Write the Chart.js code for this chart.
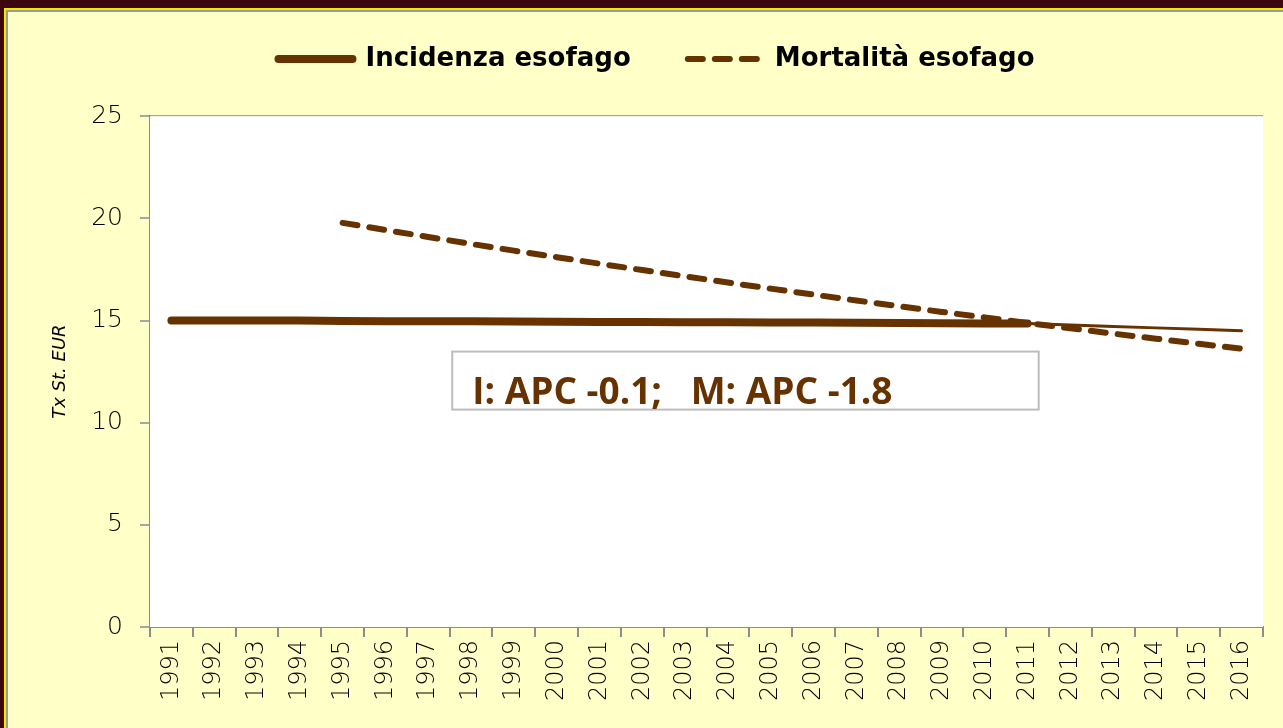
<!DOCTYPE html>
<html>
<head>
<meta charset="utf-8">
<script src="https://cdn.jsdelivr.net/npm/chart.js@4"></script>
<style>
  html, body { margin: 0; padding: 0; }
  body { width: 1283px; height: 728px; background: #3d0710; position: relative; overflow: hidden; }
  #frame { position: absolute; left: 4px; top: 8px; right: 0; bottom: 0;
           border-top: 2px solid #f2ea00; border-left: 2px solid #f2ea00; }
  #inner { position: absolute; left: 0; top: 0; right: 0; bottom: 0;
           border-top: 2px solid #9a9a9a; border-left: 2px solid #9a9a9a; background: #ffffc8; }
  #wrap { position: absolute; left: 0; top: 0; width: 1283px; height: 728px; }
</style>
</head>
<body>
<div id="frame"><div id="inner"></div></div>
<div id="wrap"><canvas id="chart-canvas" width="1283" height="728"></canvas></div>
<script>
// years on the x axis
const years = ['1991', '1992', '1993', '1994', '1995', '1996', '1997', '1998', '1999', '2000',
               '2001', '2002', '2003', '2004', '2005', '2006', '2007', '2008', '2009', '2010',
               '2011', '2012', '2013', '2014', '2015', '2016'];
// incidence (thick up to 2011, thinner after)
const incidenza = [15.0, 15.0, 15.0, 15.0, 14.98, 14.97, 14.97, 14.96, 14.95, 14.94,
                   14.93, 14.93, 14.92, 14.91, 14.9, 14.9, 14.89, 14.88, 14.87, 14.86,
                   14.85, 14.78, 14.71, 14.64, 14.57, 14.5];
// mortality starts in 1995
const mortalita = [null, null, null, null, 19.78, 19.43, 19.09, 18.75, 18.42, 18.10,
                   17.78, 17.47, 17.16, 16.86, 16.56, 16.27, 15.98, 15.70, 15.42, 15.15,
                   14.88, 14.62, 14.36, 14.11, 13.86, 13.62];
const yTicks = [0, 5, 10, 15, 20, 25];
const apcText = 'I: APC -0.1;   M: APC -1.8';

const brown = '#663300';

// white plot area + APC box
const plotBg = {
    id: 'plotBg',
    beforeDatasetsDraw(chart) {
        const a = chart.chartArea, c = chart.ctx;
        c.save();
        c.fillStyle = '#ffffff';
        c.fillRect(a.left, a.top, a.right - a.left, a.bottom - a.top);
        c.restore();
    },
    afterDraw(chart) {
        const c = chart.ctx;
        const x0 = chart.scales.x.getPixelForValue(6.56);
        const x1 = chart.scales.x.getPixelForValue(20.26);
        const y0 = chart.scales.y.getPixelForValue(13.48);
        const y1 = chart.scales.y.getPixelForValue(10.64);
        c.save();
        c.fillStyle = '#ffffff';
        c.fillRect(x0, y0, x1 - x0, y1 - y0);
        c.strokeStyle = '#bdbdbd';
        c.lineWidth = 2;
        c.strokeRect(x0, y0, x1 - x0, y1 - y0);
        c.fillStyle = brown;
        c.font = 'bold 37px "Open Sans"';
        c.textBaseline = 'alphabetic';
        c.fillText(apcText, x0 + 20, y1 - 6);
        c.restore();
    }
};

document.addEventListener('DOMContentLoaded', function() {
    var ctx = document.getElementById('chart-canvas');
    new Chart(ctx, {
        type: 'line',
        data: {
            labels: years,
            datasets: [
                {
                    label: 'Incidenza esofago',
                    data: incidenza,
                    borderColor: brown,
                    backgroundColor: brown,
                    borderWidth: 8,
                    borderCapStyle: 'round',
                    pointRadius: 0,
                    tension: 0,
                    segment: {
                        borderWidth: c => c.p0DataIndex >= 20 ? 3 : 8
                    }
                },
                {
                    label: 'Mortalità esofago',
                    data: mortalita,
                    borderColor: brown,
                    backgroundColor: brown,
                    borderWidth: 6,
                    borderDash: [15, 12],
                    borderCapStyle: 'round',
                    pointRadius: 0,
                    tension: 0
                }
            ]
        },
        options: {
            responsive: false,
            animation: false,
            layout: {
                padding: { left: 50, right: 20, top: 24, bottom: 0 }
            },
            plugins: {
                legend: {
                    display: true,
                    position: 'top',
                    labels: {
                        usePointStyle: true,
                        pointStyle: 'line',
                        pointStyleWidth: 74,
                        color: '#000000',
                        padding: 22,
                        font: { family: 'DejaVu Sans', weight: 'bold', size: 26 },
                        generateLabels(chart) {
                            return chart.data.datasets.map((ds, i) => ({
                                text: i === 0 ? ds.label + '\u2003 ' : ds.label,
                                datasetIndex: i,
                                strokeStyle: ds.borderColor,
                                fillStyle: ds.borderColor,
                                fontColor: '#000000',
                                lineWidth: i === 0 ? 8 : 6,
                                lineDash: ds.borderDash || [],
                                lineCap: 'round',
                                pointStyle: 'line',
                                hidden: false
                            }));
                        }
                    }
                },
                // spacer between the legend and the plot
                subtitle: {
                    display: true,
                    text: '',
                    weight: 500,
                    font: { size: 1 },
                    padding: { top: 33, bottom: 0 }
                },
                tooltip: { enabled: false }
            },
            scales: {
                x: {
                    offset: true,
                    grid: {
                        offset: true,
                        drawOnChartArea: false,
                        drawTicks: true,
                        tickLength: 10,
                        color: '#8c8c8c',
                        lineWidth: 2
                    },
                    border: { color: '#8c8c8c', width: 2 },
                    ticks: {
                        autoSkip: false,
                        maxRotation: 90,
                        minRotation: 90,
                        padding: 3,
                        color: '#000000',
                        font: { family: 'DejaVu Sans', weight: '300', size: 24 }
                    },
                    afterFit(scale) { scale.height = 101; }
                },
                y: {
                    min: 0,
                    max: 25,
                    afterBuildTicks(scale) { scale.ticks = yTicks.map(v => ({ value: v })); },
                    grid: {
                        color: '#a6a6a6',
                        lineWidth: 2,
                        drawTicks: true,
                        tickLength: 10
                    },
                    border: { color: '#8c8c8c', width: 2 },
                    ticks: {
                        padding: 17,
                        color: '#000000',
                        font: { family: 'DejaVu Sans', weight: '300', size: 25 }
                    },
                    title: {
                        display: true,
                        text: 'Tx St. EUR',
                        color: '#000000',
                        padding: { top: 0, bottom: 0 },
                        font: { family: 'DejaVu Sans', style: 'italic', weight: '300', size: 18 }
                    },
                    afterFit(scale) { scale.width = 100; }
                }
            }
        },
        plugins: [plotBg]
    });
});
</script>
</body>
</html>
